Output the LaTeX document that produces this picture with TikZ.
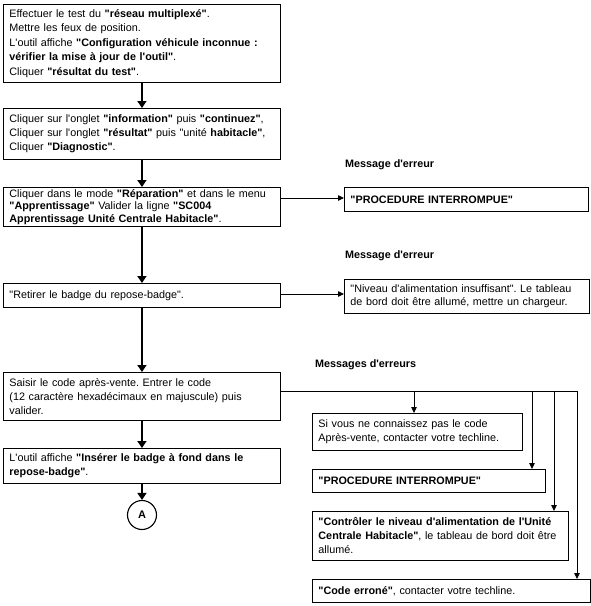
\documentclass[tikz,border=0pt]{standalone}
\usepackage{fontspec}
\setmainfont{Liberation Sans}[Ligatures=TeXOff]
\usetikzlibrary{arrows.meta}
\frenchspacing
\begin{document}
\begin{tikzpicture}[x=1pt,y=-1pt,
  box/.style={draw, line width=0.9pt, anchor=north west, align=left,
    inner xsep=6pt, inner ysep=1pt, font=\fontsize{10.8}{14}\selectfont},
  lbl/.style={anchor=west, inner sep=0pt, font=\fontsize{10.8}{12}\selectfont\bfseries},
  mainarrow/.style={line width=1.6pt, -{Triangle[length=7pt,width=9pt]}},
  sidearrow/.style={line width=0.8pt, -{Triangle[length=6pt,width=5.5pt]}},
  sideline/.style={line width=0.8pt},
  circ/.style={draw, circle, line width=1.1pt, minimum size=29pt, inner sep=0pt,
    font=\fontsize{11}{12}\selectfont\bfseries}]
\useasboundingbox (0,0) rectangle (591,606);
\fill[white] (0,0) rectangle (591,606);

% main column
\node[box, minimum width=277pt, minimum height=78pt, text width=265pt,
  font=\fontsize{10.8}{14.6}\selectfont] (b1) at (3,4)
{Effectuer le test du \textbf{"réseau multiplexé"}.\\
Mettre les feux de position.\\
L'outil affiche \textbf{"Configuration véhicule inconnue :}\\
\textbf{vérifier la mise à jour de l'outil"}.\\
Cliquer \textbf{"résultat du test"}.};

\node[box, minimum width=277pt, minimum height=51pt, text width=265pt] (b2) at (3,108)
{Cliquer sur l'onglet \textbf{"information"} puis \textbf{"continuez"},\\
Cliquer sur l'onglet \textbf{"résultat"} puis "unité \textbf{habitacle"},\\
Cliquer \textbf{"Diagnostic"}.};

\node[box, minimum width=277pt, minimum height=39pt, text width=265pt, inner ysep=2pt,
  font=\fontsize{10.8}{12.4}\selectfont] (b3) at (3,187)
{Cliquer dans le mode \textbf{"Réparation"} et dans le menu\\
\textbf{"Apprentissage"} Valider la ligne \textbf{"SC004}\\
\textbf{Apprentissage Unité Centrale Habitacle"}.};

\node[box, minimum width=277pt, minimum height=24pt, text width=265pt] (b4) at (3,283)
{"Retirer le badge du repose-badge".};

\node[box, minimum width=277pt, minimum height=48pt, text width=265pt] (b5) at (3,372)
{Saisir le code après-vente. Entrer le code\\
(12 caractère hexadécimaux en majuscule) puis\\
valider.};

\node[box, minimum width=277pt, minimum height=35pt, text width=265pt] (b6) at (3,448)
{L'outil affiche \textbf{"Insérer le badge à fond dans le}\\
\textbf{repose-badge"}.};

\node[circ] (ca) at (142,515) {A};

% error column
\node[lbl] (m1) at (345,165) {Message d'erreur};
\node[lbl] (m2) at (345,256) {Message d'erreur};
\node[lbl] (m3) at (315,365) {Messages d'erreurs};

\node[box, minimum width=244pt, minimum height=24pt, text width=232pt] (e1) at (344,187)
{\textbf{"PROCEDURE INTERROMPUE"}};

\node[box, minimum width=245pt, minimum height=34pt, text width=233pt,
  font=\fontsize{10.8}{13.5}\selectfont] (e2) at (344,279)
{"Niveau d'alimentation insuffisant". Le tableau\\
de bord doit être allumé, mettre un chargeur.};

\node[box, minimum width=210pt, minimum height=37pt, text width=198pt] (e3) at (312,413)
{Si vous ne connaissez pas le code\\
Après-vente, contacter votre techline.};

\node[box, minimum width=233pt, minimum height=23pt, text width=221pt] (e4) at (312,469)
{\textbf{"PROCEDURE INTERROMPUE"}};

\node[box, minimum width=256pt, minimum height=49pt, text width=244pt] (e5) at (312,511)
{\textbf{"Contrôler le niveau d'alimentation de l'Unité}\\
\textbf{Centrale Habitacle"}, le tableau de bord doit être\\
allumé.};

\node[box, minimum width=278pt, minimum height=23pt, text width=266pt] (e6) at (312,579)
{\textbf{"Code erroné"}, contacter votre techline.};

% main connectors
\draw[mainarrow] (b1.south) -- (b2.north);
\draw[mainarrow] (b2.south) -- (b3.north);
\draw[mainarrow] (b3.south) -- (b4.north);
\draw[mainarrow] (b4.south) -- (b5.north);
\draw[mainarrow] (b5.south) -- (b6.north);
\draw[mainarrow] (b6.south) -- (ca.north);

% side connectors
\coordinate (r1) at (280,198);
\draw[sidearrow] (r1) -- (r1 -| e1.west);
\coordinate (r2) at (280,294);
\draw[sidearrow] (r2) -- (r2 -| e2.west);

\coordinate (t0) at (577,391);
\coordinate (t1) at (414,391);
\coordinate (t2) at (532,391);
\coordinate (t3) at (554,391);
\draw[sideline] (b5.east |- t0) -- (t0);
\draw[sidearrow] (t0) -- (t0 |- e6.north);
\draw[sidearrow] (t1) -- (t1 |- e3.north);
\draw[sidearrow] (t2) -- (t2 |- e4.north);
\draw[sidearrow] (t3) -- (t3 |- e5.north);
\end{tikzpicture}
\end{document}
